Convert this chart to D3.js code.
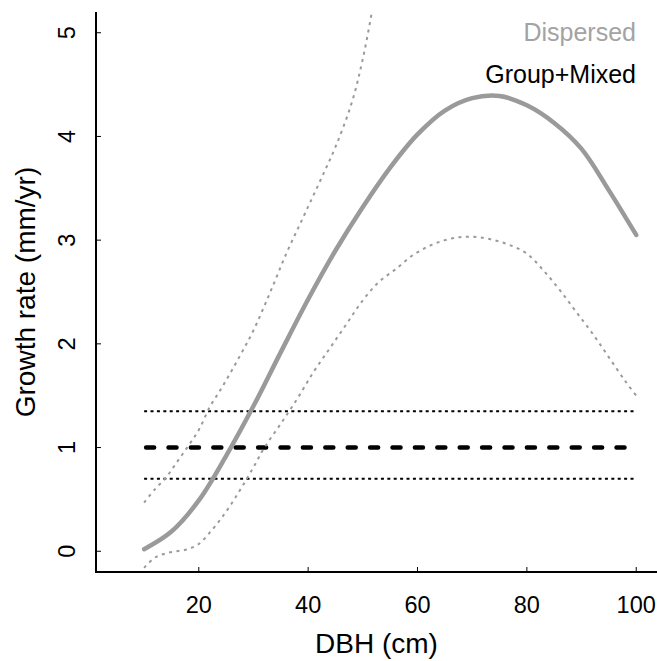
<!DOCTYPE html>
<html>
<head>
<meta charset="utf-8">
<script src="https://cdn.jsdelivr.net/npm/d3@7"></script>
<style>
body { margin: 0; background: #fff; }
text { font-family: Arial, "Liberation Sans", sans-serif; }
</style>
</head>
<body>
<svg class="chart" width="657" height="661"></svg>
<script>
// fitted growth curve for dispersed trees, with its confidence band
var dbh = [10,15,20,25,30,35,40,45,50,55,60,65,70,75,80,85,90,95,100];
var dispersedFit = [0.02,0.19,0.49,0.92,1.40,1.92,2.43,2.90,3.32,3.70,4.02,4.25,4.37,4.39,4.30,4.13,3.88,3.48,3.05];

var dbhUpper = [10,12,14,16,18,20,22,24,26,28,30,33,36,39,42,45,48,50,52,54];
var dispersedUpper = [0.47,0.60,0.71,0.86,1.01,1.17,1.39,1.56,1.74,1.93,2.13,2.49,2.87,3.21,3.55,3.90,4.33,4.75,5.3,5.9];

var dbhLower = [10,12,14,16,18,20,22,24,26,28,30,32,35,38,41,44,47,50,53,56,59,62,65,68,71,74,77,80,83,86,89,92,95,98,100];
var dispersedLower = [-0.16,-0.06,-0.02,0.0,0.02,0.07,0.18,0.31,0.46,0.63,0.81,1.0,1.23,1.47,1.73,1.96,2.19,2.42,2.60,2.72,2.85,2.94,3.00,3.03,3.03,3.00,2.95,2.87,2.71,2.52,2.31,2.10,1.87,1.64,1.50];

// group+mixed: constant rate with its band
var groupRange = [10, 100];
var groupFit = 1.0;
var groupLower = 0.7;
var groupUpper = 1.35;

var xTicks = [20,40,60,80,100];
var yTicks = [0,1,2,3,4,5];
var legendLabels = ["Dispersed", "Group+Mixed"];

var svg = d3.select(".chart");
var plotL = 96, plotR = 657, plotT = 12, plotB = 572;

var x = d3.scaleLinear().domain([1.2, 103.8]).range([plotL, plotR]);
var y = d3.scaleLinear().domain([-0.2, 5.2]).range([plotB, plotT]);

svg.append("clipPath").attr("id", "plotclip")
	.append("rect")
	.attr("x", plotL).attr("y", plotT)
	.attr("width", plotR - plotL).attr("height", plotB - plotT);

var plot = svg.append("g").attr("clip-path", "url(#plotclip)");

var line = d3.line()
	.x(function(d){ return x(d[0]); })
	.y(function(d){ return y(d[1]); })
	.curve(d3.curveCatmullRom);

// horizontal group lines
plot.append("line")
	.attr("x1", x(groupRange[0])).attr("x2", x(groupRange[1]))
	.attr("y1", y(groupUpper)).attr("y2", y(groupUpper))
	.style("stroke", "black").style("stroke-width", 2)
	.style("stroke-dasharray", "3,3.4");
plot.append("line")
	.attr("x1", x(groupRange[0])).attr("x2", x(groupRange[1]))
	.attr("y1", y(groupLower)).attr("y2", y(groupLower))
	.style("stroke", "black").style("stroke-width", 2)
	.style("stroke-dasharray", "3,3.4");
plot.append("line")
	.attr("x1", x(groupRange[0]) + 2).attr("x2", x(groupRange[1]))
	.attr("y1", y(groupFit)).attr("y2", y(groupFit))
	.style("stroke", "black").style("stroke-width", 4.5)
	.style("stroke-linecap", "round")
	.style("stroke-dasharray", "8,14.4");

// dispersed band
plot.append("path")
	.datum(d3.zip(dbhUpper, dispersedUpper))
	.attr("d", line)
	.style("fill", "none").style("stroke", "#9a9a9a")
	.style("stroke-width", 2).style("stroke-dasharray", "3,4.5");
plot.append("path")
	.datum(d3.zip(dbhLower, dispersedLower))
	.attr("d", line)
	.style("fill", "none").style("stroke", "#9a9a9a")
	.style("stroke-width", 2).style("stroke-dasharray", "3,4.5");

// dispersed fit
plot.append("path")
	.datum(d3.zip(dbh, dispersedFit))
	.attr("d", line)
	.style("fill", "none").style("stroke", "#9a9a9a")
	.style("stroke-width", 4.5).style("stroke-linecap", "round")
	.style("stroke-linejoin", "round");

// axes (L-shaped box, ticks pointing in)
svg.append("path")
	.attr("d", "M" + plotL + "," + plotT + "V" + plotB + "H" + plotR)
	.style("fill", "none").style("stroke", "black").style("stroke-width", 2);

svg.selectAll(".xtick")
	.data(xTicks)
	.enter()
	.append("line")
	.attr("x1", function(d){ return x(d); }).attr("x2", function(d){ return x(d); })
	.attr("y1", plotB).attr("y2", plotB - 5)
	.style("stroke", "black").style("stroke-width", 1);

svg.selectAll(".xlab")
	.data(xTicks)
	.enter()
	.append("text")
	.text(function(d){ return d; })
	.attr("x", function(d){ return x(d); })
	.attr("y", 613)
	.attr("text-anchor", "middle")
	.style("font-size", "23.5px");

svg.selectAll(".ytick")
	.data(yTicks)
	.enter()
	.append("line")
	.attr("x1", plotL).attr("x2", plotL + 5)
	.attr("y1", function(d){ return y(d); }).attr("y2", function(d){ return y(d); })
	.style("stroke", "black").style("stroke-width", 1);

svg.selectAll(".ylab")
	.data(yTicks)
	.enter()
	.append("text")
	.text(function(d){ return d; })
	.attr("transform", function(d){ return "translate(75," + y(d) + ") rotate(-90)"; })
	.attr("text-anchor", "middle")
	.style("font-size", "23.5px");

svg.append("text")
	.text("DBH (cm)")
	.attr("x", (plotL + plotR) / 2)
	.attr("y", 653)
	.attr("text-anchor", "middle")
	.style("font-size", "28px");

svg.append("text")
	.text("Growth rate (mm/yr)")
	.attr("transform", "translate(35," + (plotT + plotB) / 2 + ") rotate(-90)")
	.attr("text-anchor", "middle")
	.style("font-size", "28px");

// legend as plain text
svg.selectAll(".legend")
	.data(legendLabels)
	.enter()
	.append("text")
	.text(function(d){ return d; })
	.attr("x", 636)
	.attr("y", function(d, i){ return 41 + 42*i; })
	.attr("text-anchor", "end")
	.style("font-size", "25px")
	.style("fill", function(d, i){ return i == 0 ? "#a3a3a3" : "black"; });
</script>
</body>
</html>
